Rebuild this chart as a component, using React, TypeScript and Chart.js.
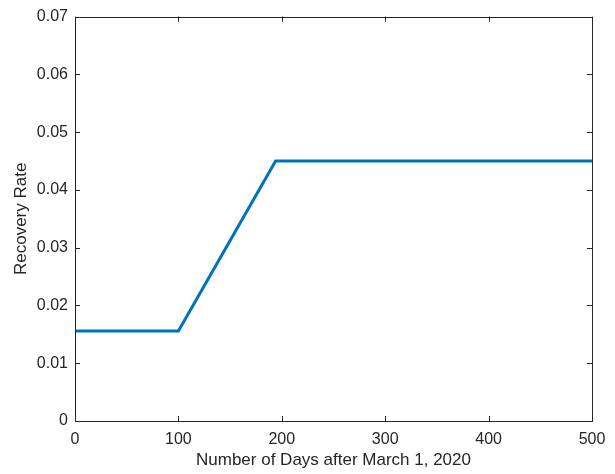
import React, { useEffect, useRef } from "react";
import { Chart, registerables } from "chart.js";

Chart.register(...registerables);

const days = [0, 100, 194, 500];
const recoveryRate = [0.0156, 0.0156, 0.045, 0.045];
const xTicks = [0, 100, 200, 300, 400, 500];
const yTicks = [0, 0.01, 0.02, 0.03, 0.04, 0.05, 0.06, 0.07];

const AXIS = "#262626";
const FONT = "'Liberation Sans', Arial, Helvetica, sans-serif";

const boxPlugin = {
  id: "matlabBox",
  afterDraw(chart: any) {
    const { ctx, chartArea: a, scales } = chart;
    ctx.save();
    ctx.strokeStyle = AXIS;
    ctx.lineWidth = 1;
    ctx.strokeRect(Math.round(a.left) + 0.5, Math.round(a.top) + 0.5, Math.round(a.right - a.left), Math.round(a.bottom - a.top));
    const tl = 5;
    ctx.beginPath();
    for (const v of xTicks) {
      const x = Math.round(scales.x.getPixelForValue(v)) + 0.5;
      ctx.moveTo(x, a.bottom);
      ctx.lineTo(x, a.bottom - tl);
      ctx.moveTo(x, a.top);
      ctx.lineTo(x, a.top + tl);
    }
    for (const v of yTicks) {
      const y = Math.round(scales.y.getPixelForValue(v)) + 0.5;
      ctx.moveTo(a.left, y);
      ctx.lineTo(a.left + tl, y);
      ctx.moveTo(a.right, y);
      ctx.lineTo(a.right - tl, y);
    }
    ctx.stroke();
    ctx.restore();
  },
};

export default function App() {
  const ref = useRef<HTMLCanvasElement>(null);
  useEffect(() => {
    document.body.style.margin = "0";
    const chart = new Chart(ref.current!, {
      type: "line",
      data: {
        datasets: [
          {
            data: days.map((d, i) => ({ x: d, y: recoveryRate[i] })),
            borderColor: "#0072BD",
            borderWidth: 3,
            pointRadius: 0,
            fill: false,
            tension: 0,
          },
        ],
      },
      options: {
        animation: false,
        responsive: false,
        layout: { padding: { top: 15, right: 23, left: 0, bottom: 0 } },
        plugins: { legend: { display: false }, tooltip: { enabled: false } },
        scales: {
          x: {
            type: "linear",
            min: 0,
            max: 500,
            afterBuildTicks: (s: any) => {
              s.ticks = xTicks.map((v) => ({ value: v }));
            },
            afterFit: (s: any) => {
              s.height = 53;
            },
            grid: { display: false, drawTicks: false },
            border: { display: false },
            ticks: {
              color: AXIS,
              font: { family: FONT, size: 16 },
              padding: 9,
              maxRotation: 0,
              callback: (v: any) => String(v),
            },
            title: {
              display: true,
              text: "Number of Days after March 1, 2020",
              color: AXIS,
              font: { family: FONT, size: 17 },
              padding: { top: 0, bottom: 3 },
            },
          },
          y: {
            type: "linear",
            min: 0,
            max: 0.07,
            afterBuildTicks: (s: any) => {
              s.ticks = yTicks.map((v) => ({ value: v }));
            },
            afterFit: (s: any) => {
              s.width = 75;
            },
            grid: { display: false, drawTicks: false },
            border: { display: false },
            ticks: {
              color: AXIS,
              font: { family: FONT, size: 16 },
              padding: 7,
              callback: (v: any) => (v === 0 ? "0" : Number(v).toFixed(2)),
            },
            title: {
              display: true,
              text: "Recovery Rate",
              color: AXIS,
              font: { family: FONT, size: 17 },
              padding: { top: 11, bottom: 0 },
            },
          },
        },
      },
      plugins: [boxPlugin],
    });
    return () => chart.destroy();
  }, []);
  return (
    <div style={{ width: 615, height: 474, background: "#fff" }}>
      <canvas ref={ref} width={615} height={474} />
    </div>
  );
}
